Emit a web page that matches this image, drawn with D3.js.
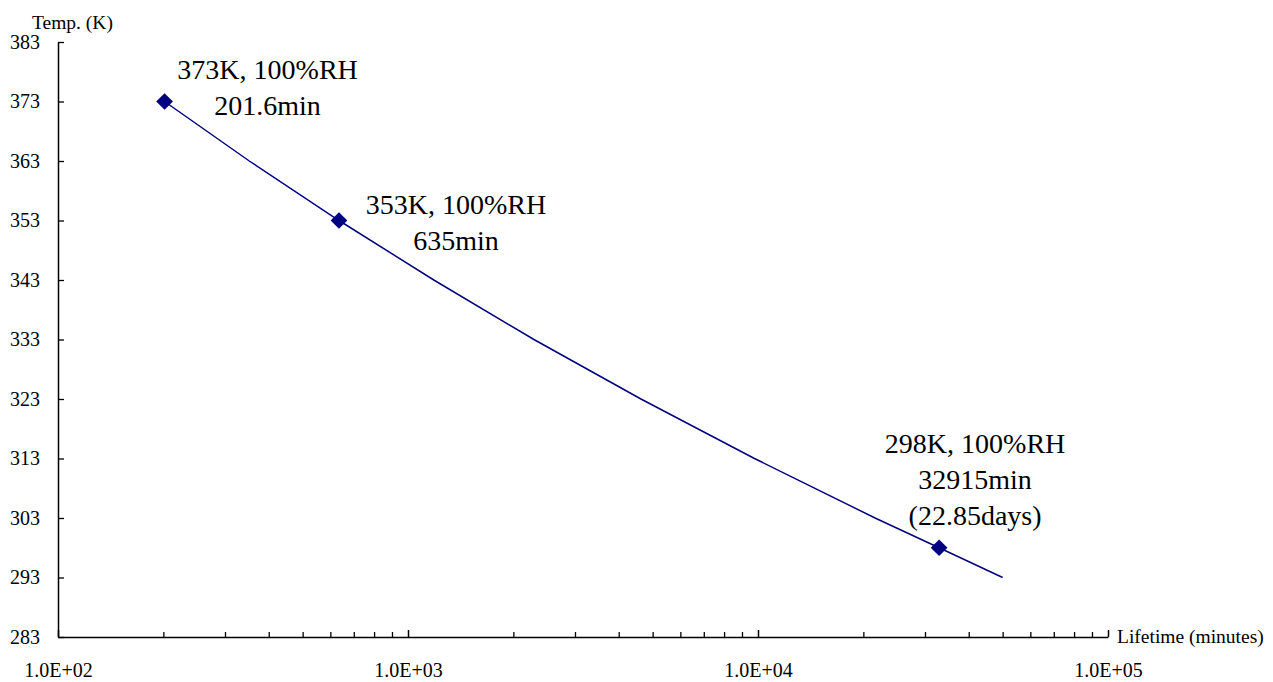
<!DOCTYPE html>
<html>
<head>
<meta charset="utf-8">
<script src="https://cdn.jsdelivr.net/npm/d3@7"></script>
<style>
  body { margin: 0; background: #fff; }
  svg, svg text { font-family: "Liberation Serif", "DejaVu Serif", serif; }
</style>
</head>
<body>
<div class="main"></div>
<script>
// measured points (K, minutes)
const pointTemps = [373, 353, 298];
const pointLifetimes = [201.6, 635, 32915];
const pointLabels = [
    ["373K, 100%RH", "201.6min"],
    ["353K, 100%RH", "635min"],
    ["298K, 100%RH", "32915min", "(22.85days)"]
];

// fitted curve
const curveTemps = [373, 363, 353, 343, 333, 323, 313, 303, 298, 293];
const curveLifetimes = [201.6, 352, 635, 1185, 2290, 4630, 9770, 21600, 32915, 50000];

const yTicks = [283, 293, 303, 313, 323, 333, 343, 353, 363, 373, 383];
const xTicks = [1e2, 1e3, 1e4, 1e5];

// label placement relative to its point (dx = centre, dy = first baseline)
const labelOffsets = [[103, -23], [117, -7], [36, -95]];

let width = 1273;
let height = 682;
let serif = "'Liberation Serif', 'DejaVu Serif', serif";

let svg = d3.select(".main")
    .append("svg")
    .attr("width", width)
    .attr("height", height);

let x = d3.scaleLog().domain([1e2, 1e5]).range([58, 1108]);
let y = d3.scaleLinear().domain([283, 383]).range([637, 42]);

function sciFormat(d) {
    let e = Math.round(Math.log10(d));
    let m = d / Math.pow(10, e);
    return m.toFixed(1) + "E+" + String(e).padStart(2, "0");
}

// minor ticks on the log axis
let minorTicks = [];
xTicks.slice(0, -1).forEach(dec => {
    for (let k = 2; k <= 9; k++) minorTicks.push(dec * k);
});

svg.append("g")
    .attr("transform", `translate(0,${y(283)})`)
    .call(d3.axisBottom(x).tickValues(minorTicks).tickSize(-5).tickFormat(""))
    .call(g => g.select(".domain").remove())
    .selectAll("line").attr("stroke", "#000").attr("stroke-width", 1.3);

let xAxis = svg.append("g")
    .attr("transform", `translate(0,${y(283)})`)
    .attr("font-family", serif)
    .call(d3.axisBottom(x).tickValues(xTicks).tickSize(-7).tickSizeOuter(0)
        .tickPadding(26).tickFormat(sciFormat));
xAxis.attr("font-family", serif).attr("font-size", 20);
xAxis.select(".domain").attr("stroke", "#000").attr("stroke-width", 1.5);
xAxis.selectAll("line").attr("stroke", "#000").attr("stroke-width", 1.5);
xAxis.selectAll("text").attr("fill", "#000");

let yAxis = svg.append("g")
    .attr("transform", `translate(${x(1e2)},0)`)
    .call(d3.axisLeft(y).tickValues(yTicks).tickSize(-6).tickSizeOuter(0)
        .tickPadding(18).tickFormat(d3.format("d")));
yAxis.attr("font-family", serif).attr("font-size", 20);
yAxis.select(".domain").attr("stroke", "#000").attr("stroke-width", 1.5);
yAxis.selectAll("line").attr("stroke", "#000").attr("stroke-width", 1.3);
yAxis.selectAll("text").attr("fill", "#000");

// axis titles
svg.append("text")
    .attr("x", 32)
    .attr("y", 29)
    .attr("font-size", 19.5)
    .text("Temp. (K)");

svg.append("text")
    .attr("x", x(1e5) + 9)
    .attr("y", y(283) + 6)
    .attr("font-size", 19.5)
    .text("Lifetime (minutes)");

// curve
let curveData = curveTemps.map((t, i) => ({ t: t, life: curveLifetimes[i] }));
svg.append("path")
    .datum(curveData)
    .attr("fill", "none")
    .attr("stroke", "#000080")
    .attr("stroke-width", 1.5)
    .attr("d", d3.line().x(d => x(d.life)).y(d => y(d.t)));

// markers
let pointData = pointTemps.map((t, i) => ({ t: t, life: pointLifetimes[i], lines: pointLabels[i], off: labelOffsets[i] }));
svg.selectAll(".marker")
    .data(pointData)
    .enter().append("path")
    .attr("class", "marker")
    .attr("transform", d => `translate(${x(d.life)},${y(d.t)}) rotate(45)`)
    .attr("d", d3.symbol().type(d3.symbolSquare).size(140))
    .attr("fill", "#000080");

// point labels
let labels = svg.selectAll(".pt-label")
    .data(pointData)
    .enter().append("text")
    .attr("class", "pt-label")
    .attr("font-size", 28)
    .attr("text-anchor", "middle");

labels.each(function (d) {
    let cx = x(d.life) + d.off[0];
    let by = y(d.t) + d.off[1];
    d3.select(this).selectAll("tspan")
        .data(d.lines)
        .enter().append("tspan")
        .attr("x", cx)
        .attr("y", (s, i) => by + i * 36)
        .text(s => s);
});
</script>
</body>
</html>
